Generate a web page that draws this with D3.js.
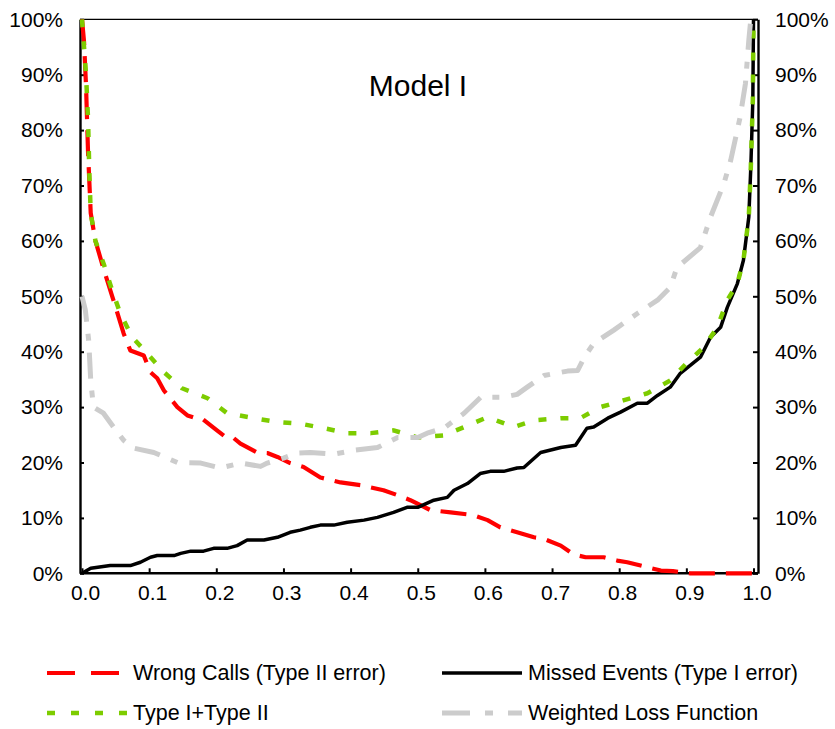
<!DOCTYPE html>
<html>
<head>
<meta charset="utf-8">
<script src="https://cdn.jsdelivr.net/npm/d3@7"></script>
<style>
  body { margin: 0; background: #fff; }
  text { font-family: "Liberation Sans", Arial, sans-serif; fill: #000; }
</style>
</head>
<body>
<div id="chart"></div>
<script>
// data (x = cutoff, y = error share in %)
var wrongX = [0, 0.003, 0.006, 0.009, 0.013, 0.02, 0.032, 0.045, 0.062, 0.072, 0.092, 0.102, 0.112, 0.122, 0.142, 0.157, 0.167, 0.177, 0.201, 0.216, 0.226, 0.236, 0.261, 0.276, 0.291, 0.31, 0.33, 0.355, 0.385, 0.415, 0.449, 0.47, 0.489, 0.519, 0.549, 0.583, 0.604, 0.623, 0.648, 0.673, 0.686, 0.713, 0.732, 0.75, 0.777, 0.797, 0.812, 0.842, 0.862, 0.88, 0.906, 1.0];
var wrongY = [100, 96, 88, 76, 65, 60, 55, 50, 43.3, 40.2, 39.3, 36.3, 35.2, 33, 30, 28.5, 28.1, 28.1, 25.8, 24.4, 24.4, 23.4, 21.8, 21.7, 21, 19.9, 19.2, 17.3, 16.4, 15.9, 15, 14.1, 13.2, 11.4, 11, 10.5, 9.6, 8.3, 7.4, 6.5, 6.3, 5, 3.4, 2.9, 2.9, 2.3, 2, 1.1, 0.5, 0.4, 0, 0];

var missedX = [0, 0.013, 0.042, 0.072, 0.087, 0.102, 0.112, 0.137, 0.147, 0.162, 0.181, 0.196, 0.216, 0.231, 0.246, 0.271, 0.291, 0.31, 0.325, 0.34, 0.355, 0.375, 0.395, 0.42, 0.44, 0.464, 0.484, 0.5, 0.524, 0.544, 0.554, 0.574, 0.593, 0.608, 0.628, 0.648, 0.658, 0.683, 0.713, 0.735, 0.752, 0.762, 0.783, 0.802, 0.827, 0.842, 0.857, 0.876, 0.891, 0.921, 0.936, 0.951, 0.961, 0.976, 0.985, 0.993, 0.996, 0.999, 1.0];
var missedY = [0, 0.9, 1.4, 1.4, 2, 2.9, 3.2, 3.2, 3.6, 4, 4, 4.5, 4.5, 5, 6, 6, 6.5, 7.4, 7.8, 8.3, 8.7, 8.7, 9.2, 9.6, 10.1, 11, 11.9, 11.9, 13.2, 13.7, 15, 16.2, 18, 18.4, 18.4, 19, 19.1, 21.8, 22.7, 23.1, 26.2, 26.4, 28, 29.1, 30.7, 30.7, 32.1, 33.6, 36.1, 39, 42.6, 44.4, 48, 52.3, 56.5, 64.3, 73.3, 85.4, 100];

var sumX = [0, 0.003, 0.006, 0.009, 0.011, 0.013, 0.02, 0.033, 0.044, 0.057, 0.075, 0.097, 0.122, 0.149, 0.187, 0.216, 0.256, 0.291, 0.325, 0.36, 0.395, 0.43, 0.464, 0.5, 0.539, 0.569, 0.604, 0.643, 0.673, 0.713, 0.742, 0.772, 0.806, 0.842, 0.876, 0.9, 0.926, 0.946, 0.961, 0.976, 0.985, 0.993, 0.996, 0.999, 1.0];
var sumY = [100, 95, 90, 82, 72, 65, 60, 55.6, 51.4, 46.9, 42.6, 39.7, 36.3, 33.4, 31.6, 28.9, 28, 27.3, 27, 26.2, 25.3, 25.3, 25.8, 24.5, 24.9, 26.4, 28.2, 26.4, 27.6, 28, 28, 30, 31.2, 32.5, 34.8, 37.9, 40.8, 44.4, 49.3, 52.3, 56.5, 64.3, 73.3, 85.4, 100];

var lossX = [0, 0.005, 0.01, 0.013, 0.017, 0.032, 0.047, 0.062, 0.077, 0.107, 0.142, 0.177, 0.206, 0.236, 0.266, 0.276, 0.3, 0.32, 0.34, 0.375, 0.405, 0.44, 0.47, 0.5, 0.514, 0.539, 0.569, 0.594, 0.628, 0.648, 0.663, 0.688, 0.723, 0.738, 0.748, 0.762, 0.792, 0.827, 0.857, 0.876, 0.886, 0.921, 0.936, 0.956, 0.966, 0.98, 0.988, 0.993, 0.996];
var lossY = [50, 47.5, 42, 34.8, 30, 28.9, 26.4, 24, 22.6, 21.8, 20, 19.9, 19, 19.9, 19.3, 19.9, 20.8, 21.7, 21.8, 21.5, 22.2, 22.7, 24.5, 24.5, 25.3, 26.2, 28.9, 31.8, 31.8, 32.3, 33.6, 35.7, 36.5, 36.6, 39, 41.5, 43.9, 46.9, 49.3, 51.6, 55.2, 58.8, 64.3, 70.4, 74.5, 82.3, 88.4, 96.2, 100];

var xTicks = [0, 0.1, 0.2, 0.3, 0.4, 0.5, 0.6, 0.7, 0.8, 0.9, 1.0];
var yTicks = [0, 10, 20, 30, 40, 50, 60, 70, 80, 90, 100];
var seriesNames = ["Wrong Calls (Type II error)", "Missed Events (Type I error)", "Type I+Type II", "Weighted Loss Function"];
var chartTitle = "Model I";

var width = 835, height = 729;
var plotLeft = 80, plotRight = 758, plotTop = 19.3, plotBottom = 573.3;

var svg = d3.select("#chart").append("svg")
    .attr("width", width)
    .attr("height", height);

var x = d3.scaleLinear().domain([0, 1]).range([82, 753.5]);
var y = d3.scaleLinear().domain([0, 100]).range([plotBottom, plotTop]);

//frame: thin top border, heavier axes
svg.append("line")
    .attr("x1", plotLeft).attr("x2", plotRight)
    .attr("y1", plotTop).attr("y2", plotTop)
    .style("stroke", "#000").style("stroke-width", 1.2);

var xAxis = svg.append("g")
    .attr("transform", "translate(0," + plotBottom + ")")
    .call(d3.axisBottom(x).tickValues(xTicks).tickSizeInner(-5).tickSizeOuter(0).tickPadding(12)
        .tickFormat(d3.format(".1f")));
xAxis.select(".domain").attr("d", "M" + plotLeft + ",0H" + plotRight);

var yLeft = svg.append("g")
    .attr("transform", "translate(" + plotLeft + ",0)")
    .call(d3.axisLeft(y).tickValues(yTicks).tickSizeInner(-4).tickSizeOuter(0).tickPadding(17)
        .tickFormat(function(d) { return d + "%"; }));

var yRight = svg.append("g")
    .attr("transform", "translate(" + plotRight + ",0)")
    .call(d3.axisRight(y).tickValues(yTicks).tickSizeInner(-5).tickSizeOuter(0).tickPadding(17)
        .tickFormat(function(d) { return d + "%"; }));

svg.selectAll(".domain").style("stroke", "#000").style("stroke-width", 2.4);
svg.selectAll(".tick line").style("stroke", "#000").style("stroke-width", 2);
svg.selectAll(".tick text")
    .style("font-size", "21px")
    .style("font-family", "'Liberation Sans', Arial, sans-serif")
    .style("fill", "#000");
xAxis.selectAll(".tick text").attr("dx", "3px");

// title
svg.append("text")
    .attr("x", 418).attr("y", 96)
    .attr("text-anchor", "middle")
    .style("font-size", "30px")
    .text(chartTitle);

var styles = [
  { color: "#ff0000", width: 4.2, dash: "26,11" },
  { color: "#000000", width: 3.5, dash: null },
  { color: "#7dcc00", width: 4.5, dash: "8,14" },
  { color: "#cccccc", width: 5, dash: "26,12,7,12" }
];

var seriesData = [
  d3.zip(wrongX, wrongY),
  d3.zip(missedX, missedY),
  d3.zip(sumX, sumY),
  d3.zip(lossX, lossY)
];

var line = d3.line()
    .x(function(d) { return x(d[0]); })
    .y(function(d) { return y(d[1]); });

svg.append("g").selectAll("path.series")
    .data(seriesData)
  .enter().append("path")
    .attr("class", "series")
    .attr("d", line)
    .style("fill", "none")
    .style("stroke", function(d, i) { return styles[i].color; })
    .style("stroke-width", function(d, i) { return styles[i].width; })
    .style("stroke-dasharray", function(d, i) { return styles[i].dash; })
    .style("stroke-linejoin", "round");

// legend, two columns
var legendPos = [
  { x1: 47, x2: 119, y: 673, tx: 133 },
  { x1: 442, x2: 522, y: 673, tx: 528 },
  { x1: 47, x2: 127, y: 713, tx: 133 },
  { x1: 442, x2: 522, y: 713, tx: 528 }
];

var legend = svg.append("g").attr("class", "legend");
var items = legend.selectAll("g").data(seriesNames).enter().append("g");

items.append("line")
    .attr("x1", function(d, i) { return legendPos[i].x1; })
    .attr("x2", function(d, i) { return legendPos[i].x2; })
    .attr("y1", function(d, i) { return legendPos[i].y; })
    .attr("y2", function(d, i) { return legendPos[i].y; })
    .style("stroke", function(d, i) { return styles[i].color; })
    .style("stroke-width", function(d, i) { return styles[i].width; })
    .style("stroke-dasharray", function(d, i) {
      return i === 0 ? "28,16" : i === 2 ? "8,16" : i === 3 ? "28,15,8,15" : null;
    });

items.append("text")
    .attr("x", function(d, i) { return legendPos[i].tx; })
    .attr("y", function(d, i) { return legendPos[i].y + 7; })
    .style("font-size", "21.5px")
    .text(function(d) { return d; });
</script>
</body>
</html>
